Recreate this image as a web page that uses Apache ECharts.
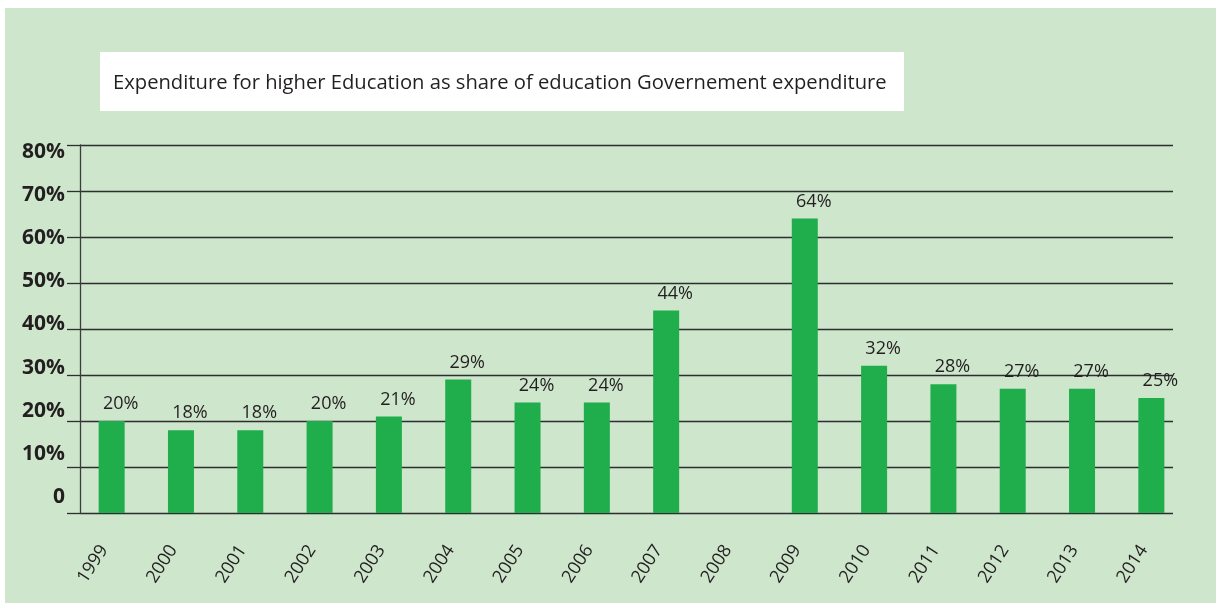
<!DOCTYPE html>
<html>
<head>
<meta charset="utf-8">
<script src="https://cdn.jsdelivr.net/npm/echarts@6/dist/echarts.min.js"></script>
<style>
  html, body { margin: 0; padding: 0; background: #ffffff; }
  #chart { width: 1216px; height: 603px; }
</style>
</head>
<body>
<div id="chart"></div>
<script>
// Years on the category axis (2008 has no reported value)
const years = ['1999', '2000', '2001', '2002', '2003', '2004', '2005', '2006',
               '2007', '2008', '2009', '2010', '2011', '2012', '2013', '2014'];
// Share of higher education in government education expenditure, in %
const shares = [20, 18, 18, 20, 21, 29, 24, 24, 44, null, 64, 32, 28, 27, 27, 25];
// Value-axis ticks (percent)
const yTicks = [0, 10, 20, 30, 40, 50, 60, 70, 80];
const titleText = 'Expenditure for higher Education as share of education Governement expenditure';

const FONT = '"Open Sans", "DejaVu Sans", sans-serif';
const INK = '#231f20';
const LINE = '#2e2e2e';
const yMin = yTicks[0], yMax = yTicks[yTicks.length - 1], yStep = yTicks[1] - yTicks[0];

const chart = echarts.init(document.getElementById('chart'), null, { renderer: 'canvas' });

chart.setOption({
  backgroundColor: '#ffffff',
  animation: false,
  graphic: [
    { type: 'rect', z: -100, silent: true,
      shape: { x: 5, y: 8, width: 1211, height: 595 },
      style: { fill: '#cde6cc' } },
    { type: 'rect', z: -90, silent: true,
      shape: { x: 100, y: 52, width: 804, height: 59 },
      style: { fill: '#ffffff' } }
  ],
  title: {
    text: titleText,
    left: 113, top: 70, padding: 0,
    textStyle: { fontFamily: FONT, fontSize: 20.2, fontWeight: 'normal', color: INK, lineHeight: 26 }
  },
  grid: [
    // rules, ticks and the vertical axis line
    { left: 80, right: 43, top: 145, bottom: 90, containLabel: false },
    // bars and year labels
    { left: 77, right: 30, top: 145, bottom: 90, containLabel: false },
    // percent labels along the value axis
    { left: 80, right: 43, top: 152, bottom: 106, containLabel: false }
  ],
  xAxis: [
    { gridIndex: 0, type: 'category', data: years, show: false },
    { gridIndex: 1, type: 'category', data: years,
      axisLine: { show: false }, axisTick: { show: false },
      axisLabel: { rotate: 57, margin: 22, interval: 0, padding: [0, 14, 0, 0],
                   fontFamily: FONT, fontSize: 18, color: INK } },
    { gridIndex: 2, type: 'category', data: years, show: false }
  ],
  yAxis: [
    { gridIndex: 0, type: 'value', min: yMin, max: yMax, interval: yStep,
      axisLine: { show: true, lineStyle: { color: '#3c3c3c', width: 1.3 } },
      axisTick: { show: true, length: 13, lineStyle: { color: LINE, width: 1.3 } },
      axisLabel: { show: false },
      splitLine: { show: true, lineStyle: { color: LINE, width: 1.3 } } },
    { gridIndex: 1, type: 'value', min: yMin, max: yMax, interval: yStep, show: false },
    { gridIndex: 2, type: 'value', min: yMin, max: yMax, interval: yStep,
      axisLine: { show: false }, axisTick: { show: false }, splitLine: { show: false },
      axisLabel: { margin: 15, fontFamily: FONT, fontSize: 21, fontWeight: 'bold', color: INK,
                   formatter: v => (v === 0 ? '0' : v + '%') } }
  ],
  series: [{
    type: 'bar',
    xAxisIndex: 1, yAxisIndex: 1,
    data: shares,
    barWidth: 26,
    itemStyle: { color: '#1fae4b' },
    label: {
      show: true, position: 'top', distance: 8, offset: [9, 0],
      fontFamily: FONT, fontSize: 18, color: INK,
      formatter: p => p.value + '%'
    }
  }]
});
</script>
</body>
</html>
